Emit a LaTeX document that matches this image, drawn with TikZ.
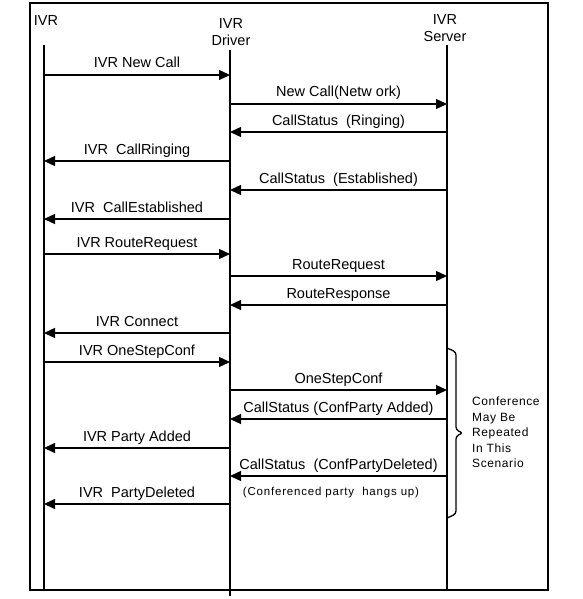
\documentclass[tikz,border=0pt]{standalone}
\usepackage{fontspec}
\setmainfont{Liberation Sans}
\usetikzlibrary{arrows.meta}
\begin{document}
\begin{tikzpicture}[x=1pt,y=-1pt,
  frame/.style={line width=1.3pt},
  lifeline/.style={line width=1.3pt},
  msg/.style={line width=1.3pt,-{Triangle[length=11pt,width=10pt]}},
  hdr/.style={font=\fontsize{14.5}{17}\selectfont, inner sep=0pt, align=center},
  lbl/.style={font=\fontsize{14.5}{17}\selectfont, inner sep=0pt, anchor=base, yshift=7pt},
  note/.style={font=\fontsize{11.5}{14}\selectfont\addfontfeature{LetterSpace=7}, inner sep=0pt, anchor=base},
  bracetext/.style={font=\fontsize{12}{15.5}\selectfont\addfontfeature{LetterSpace=5}, inner sep=0pt, align=left, anchor=north west},
  bracestyle/.style={line width=1.3pt, line join=round, rounded corners=3pt}]
\useasboundingbox (0,0) rectangle (582,599);
\draw[frame] (30,3) rectangle (548,590);
% headers
\node[hdr] (hIVR) at (46,21) {IVR};
\node[hdr] (hDrv) at (231,32) {IVR\\Driver};
\node[hdr] (hSrv) at (445,28) {IVR\\Server};
% lifelines
\coordinate (A) at (44,45);
\coordinate (Ab) at (44,590);
\coordinate (B) at (230,50);
\coordinate (Bb) at (230,596);
\coordinate (C) at (447,45);
\coordinate (Cb) at (447,590);
\draw[lifeline] (A) -- (Ab);
\draw[lifeline] (B) -- (Bb);
\draw[lifeline] (C) -- (Cb);
% messages
\draw[msg] (A |- 0,75) -- node[lbl] (m1) {IVR New Call} (B |- 0,75);
\draw[msg] (B |- 0,104) -- node[lbl] (m2) {New Call(Netw ork)} (C |- 0,104);
\draw[msg] (C |- 0,132) -- node[lbl] (m3) {CallStatus\ \ (Ringing)} (B |- 0,132);
\draw[msg] (B |- 0,161) -- node[lbl] (m4) {IVR\ \ CallRinging} (A |- 0,161);
\draw[msg] (C |- 0,190) -- node[lbl] (m5) {CallStatus\ \ (Established)} (B |- 0,190);
\draw[msg] (B |- 0,219) -- node[lbl] (m6) {IVR\ \ CallEstablished} (A |- 0,219);
\draw[msg] (A |- 0,254) -- node[lbl] (m7) {IVR RouteRequest} (B |- 0,254);
\draw[msg] (B |- 0,276) -- node[lbl] (m8) {RouteRequest} (C |- 0,276);
\draw[msg] (C |- 0,305) -- node[lbl] (m9) {RouteResponse} (B |- 0,305);
\draw[msg] (B |- 0,333) -- node[lbl] (m10) {IVR Connect} (A |- 0,333);
\draw[msg] (A |- 0,362) -- node[lbl] (m11) {IVR OneStepConf} (B |- 0,362);
\draw[msg] (B |- 0,390) -- node[lbl] (m12) {OneStepConf} (C |- 0,390);
\draw[msg] (C |- 0,419) -- node[lbl] (m13) {CallStatus (ConfParty Added)} (B |- 0,419);
\draw[msg] (B |- 0,448) -- node[lbl] (m14) {IVR Party Added} (A |- 0,448);
\draw[msg] (C |- 0,476) -- node[lbl] (m15) {CallStatus\ \ (ConfPartyDeleted)} (B |- 0,476);
\draw[msg] (B |- 0,504) -- node[lbl] (m16) {IVR\ \ PartyDeleted} (A |- 0,504);
\node[note] (hang) at (331,495) {(Conferenced party\ \ hangs up)};
% brace
\draw[bracestyle] (447,348) -- (456,352) -- (456,430) -- (463,433) -- (456,436) -- (456,514) -- (447,518);
\node[bracetext] (rep) at (472,397) {Conference\\May Be\\Repeated\\In This\\Scenario};
\end{tikzpicture}
\end{document}
